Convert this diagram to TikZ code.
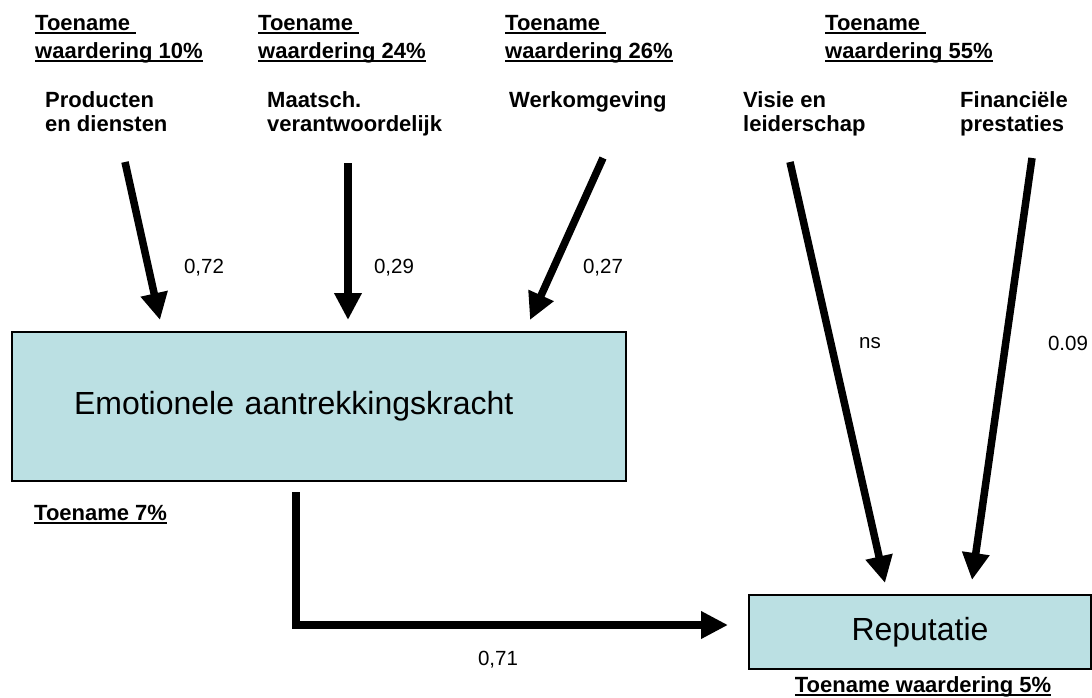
\documentclass[tikz,border=0pt]{standalone}
\usepackage{fontspec}
\setmainfont{Liberation Sans}
\usepackage{xcolor}
\usepackage{tikz}
\usetikzlibrary{arrows.meta,positioning}
\definecolor{kaderblauw}{HTML}{BBE0E3}
\newsavebox{\ondbox}
\newcommand{\ondlijn}[1]{\sbox{\ondbox}{#1}\rlap{\rule[-3.5pt]{\wd\ondbox}{1.8pt}}\usebox{\ondbox}}
\tikzstyle{kop}=[anchor=north west, inner sep=0pt, align=left,
  font=\fontsize{22}{28}\selectfont\bfseries]
\tikzstyle{factor}=[anchor=north west, inner sep=0pt, align=left,
  font=\fontsize{22}{24}\selectfont\bfseries]
\tikzstyle{getal}=[inner sep=0pt, font=\fontsize{20.5}{24}\selectfont]
\tikzstyle{kader}=[rectangle, draw=black, line width=2pt, fill=kaderblauw,
  font=\fontsize{32}{38}\selectfont]
\tikzstyle{pijl}=[-{Triangle[length=27pt,width=26pt]}, line width=7.5pt, line join=miter]

\begin{document}
\begin{tikzpicture}[x=1pt,y=-1pt]
\useasboundingbox (0,0) rectangle (1092,698);

% toename per driver
\node (t10) [kop] at (35,14.7) {\ondlijn{Toename\ }\\\ondlijn{waardering 10\%}};
\node (t24) [kop] at (258,14.7) {\ondlijn{Toename\ }\\\ondlijn{waardering 24\%}};
\node (t26) [kop] at (505,14.7) {\ondlijn{Toename\ }\\\ondlijn{waardering 26\%}};
\node (t55) [kop] at (825,14.7) {\ondlijn{Toename\ }\\\ondlijn{waardering 55\%}};

% drivers
\node (prod) [factor] at (45,91) {Producten\\en diensten};
\node (maat) [factor] at (267,91) {Maatsch.\\verantwoordelijk};
\node (werk) [factor] at (509,91) {Werkomgeving};
\node (visie) [factor] at (743,91) {Visie en\\leiderschap};
\node (fin) [factor] at (960,91) {Financiële\\prestaties};

% kaders
\node (emo) [kader, anchor=north west, minimum height=149pt, text width=490pt,
  inner xsep=62pt, align=left] at (11,331) {Emotionele aantrekkingskracht};
\node (rep) [kader, anchor=north west, minimum width=342pt, minimum height=74pt] at (748,594) {Reputatie};
\node (t7) [kop] at (34,505) {\ondlijn{Toename 7\%}};
\node (t5) [kop, anchor=north] at (923,676) {\ondlijn{Toename waardering 5\%}};

% coefficienten
\node (n72) [getal] at (204,268) {0,72};
\node (n29) [getal] at (394,268) {0,29};
\node (n27) [getal] at (603,268) {0,27};
\node (nns) [getal] at (870,343) {ns};
\node (n09) [getal] at (1068,343) {0.09};
\node (n71) [getal] at (498,660) {0,71};

% begin- en eindpunten van de pijlen
\coordinate (prod-uit) at (125,162);
\coordinate (maat-uit) at (348,163);
\coordinate (werk-uit) at (603,158);
\coordinate (visie-uit) at (790,162);
\coordinate (fin-uit) at (1032,158);
\coordinate (emo-uit) at (296,492);
\coordinate (emo-in1) at (160,320);
\coordinate (emo-in2) at (348,320);
\coordinate (emo-in3) at (530,320);
\coordinate (rep-in1) at (885,583);
\coordinate (rep-in2) at (972,580);
\coordinate (rep-in3) at (728,625);

\draw[pijl] (prod-uit)--(emo-in1);
\draw[pijl] (maat-uit)--(emo-in2);
\draw[pijl] (werk-uit)--(emo-in3);
\draw[pijl] (visie-uit)--(rep-in1);
\draw[pijl] (fin-uit)--(rep-in2);
\draw[pijl] (emo-uit) |- (rep-in3);
\end{tikzpicture}
\end{document}
